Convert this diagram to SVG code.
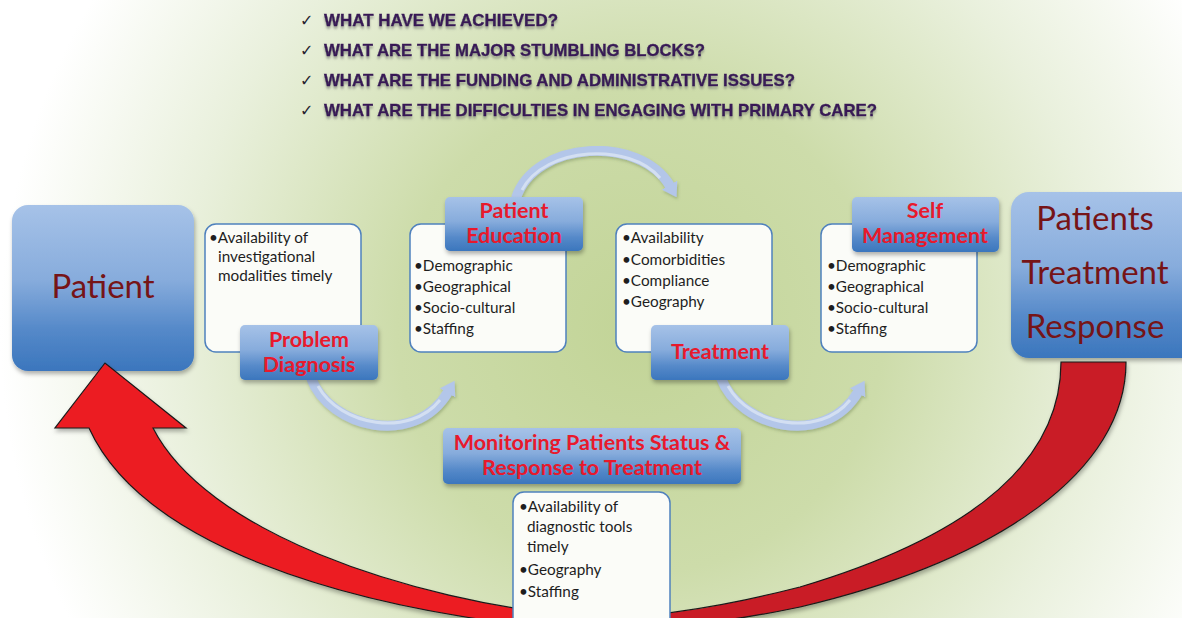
<svg xmlns="http://www.w3.org/2000/svg" width="1182" height="618" viewBox="0 0 1182 618">
  <defs>
    <radialGradient id="bg" gradientUnits="userSpaceOnUse" cx="640" cy="330" r="640">
      <stop offset="0" stop-color="#c2d497"/>
      <stop offset="0.38" stop-color="#cddcaa"/>
      <stop offset="0.72" stop-color="#e9f0dc"/>
      <stop offset="1" stop-color="#ffffff"/>
    </radialGradient>
    <linearGradient id="blueFill" x1="0" y1="0" x2="0" y2="1">
      <stop offset="0" stop-color="#a6c2e8"/>
      <stop offset="0.45" stop-color="#87acdc"/>
      <stop offset="0.75" stop-color="#5589c9"/>
      <stop offset="1" stop-color="#3b76bd"/>
    </linearGradient>
    <filter id="shadow" x="-10%" y="-10%" width="120%" height="130%">
      <feDropShadow dx="1" dy="3" stdDeviation="2" flood-color="#000" flood-opacity="0.3"/>
    </filter>
    <filter id="textShadow" x="-5%" y="-30%" width="110%" height="180%">
      <feDropShadow dx="0" dy="2.5" stdDeviation="1.2" flood-color="#6b6b6b" flood-opacity="0.6"/>
    </filter>
    <filter id="arcShadow" x="-10%" y="-10%" width="130%" height="140%">
      <feDropShadow dx="1" dy="2" stdDeviation="1.5" flood-color="#556b3a" flood-opacity="0.35"/>
    </filter>
    <marker id="blueHead" markerUnits="userSpaceOnUse" viewBox="0 0 14 18" refX="1" refY="9" markerWidth="14" markerHeight="18" orient="auto">
      <path d="M0 0 L14 9 L0 18 Z" fill="#b3c6e9"/>
    </marker>
    <style>
      .hdr { font-family: "Liberation Sans", Arial, sans-serif; font-weight: bold; font-size: 17px; fill: #381a56; stroke: #381a56; stroke-width: 0.35; }
      .tick { font-family: "DejaVu Sans", sans-serif; font-weight: bold; font-size: 16px; fill: #26222e; }
      .label { fill: url(#blueFill); filter: url(#shadow); }
      .labelText { font-family: Lato, "Open Sans", sans-serif; font-weight: bold; font-size: 21.5px; fill: #e8192c; text-anchor: middle; }
      .bigText { font-family: Lato, "Open Sans", sans-serif; font-size: 33px; fill: #761417; text-anchor: middle; }
      .card { fill: #fbfcf8; stroke: #4f81bd; stroke-width: 1.5; }
      .item { font-family: Lato, "Open Sans", sans-serif; font-size: 15.3px; fill: #1e1e1e; }
      .arc { fill: none; stroke: #b3c6e9; stroke-width: 10; marker-end: url(#blueHead); filter: url(#arcShadow); }
      .arcHi { fill: none; stroke: #d3dff2; stroke-width: 3; }
      .bigArrow { stroke: #1a1a1a; stroke-width: 1.2; stroke-linejoin: miter; filter: url(#shadow); }
    </style>
  </defs>

  <!-- backdrop -->
  <rect width="1182" height="618" fill="url(#bg)"/>

  <!-- question list -->
  <g id="questions">
    <text class="tick" x="300" y="26">✓</text>
    <text class="hdr" x="324" y="26" textLength="234" lengthAdjust="spacingAndGlyphs" filter="url(#textShadow)">WHAT HAVE WE ACHIEVED?</text>
    <text class="tick" x="300" y="56">✓</text>
    <text class="hdr" x="324" y="56" textLength="381" lengthAdjust="spacingAndGlyphs" filter="url(#textShadow)">WHAT ARE THE MAJOR STUMBLING BLOCKS?</text>
    <text class="tick" x="300" y="86">✓</text>
    <text class="hdr" x="324" y="86" textLength="471" lengthAdjust="spacingAndGlyphs" filter="url(#textShadow)">WHAT ARE THE FUNDING AND ADMINISTRATIVE ISSUES?</text>
    <text class="tick" x="300" y="116">✓</text>
    <text class="hdr" x="324" y="116" textLength="553" lengthAdjust="spacingAndGlyphs" filter="url(#textShadow)">WHAT ARE THE DIFFICULTIES IN ENGAGING WITH PRIMARY CARE?</text>
  </g>

  <!-- start node -->
  <g id="patient">
    <rect x="12" y="205" width="182" height="166" rx="16" class="label"/>
    <text class="bigText" x="103" y="298">Patient</text>
  </g>

  <!-- connectors -->
  <g id="connectors">
    <!-- large return arrow: right half -->
    <path class="bigArrow" fill="#c91f27" d="M1061 362 L1126 362 C1126 470 1000 560 800 607 C720 624 650 630 590 632 L590 618 C660 618 730 605 800 587 C975 535 1061 460 1061 362 Z"/>
    <!-- large return arrow: left half with head -->
    <path class="bigArrow" fill="#ec1c24" d="M590 618 C400 600 205 530 153 428 L186 428 L105 363 L55 428 L89 428 C140 540 330 610 590 632 Z"/>
    <!-- step arrows -->
    <path class="arc" d="M311 378 C330 428 415 448 448 392"/>
    <path class="arcHi" d="M318 386 C340 426 410 438 440 400"/>
    <path class="arc" d="M516 198 C535 140 640 135 670 186"/>
    <path class="arcHi" d="M522 190 C545 146 630 142 660 178"/>
    <path class="arc" d="M721 378 C740 428 825 448 858 392"/>
    <path class="arcHi" d="M728 386 C750 426 820 438 850 400"/>
  </g>

  <g id="problem-diagnosis">
    <rect x="205" y="224" width="156" height="128" rx="11" class="card"/>
    <text class="item" x="209" y="243">•Availability of</text>
    <text class="item" x="218" y="262">investigational</text>
    <text class="item" x="218" y="281">modalities timely</text>
    <rect x="240" y="325" width="138" height="55" rx="5" class="label"/>
    <text class="labelText" x="309" y="347">Problem</text>
    <text class="labelText" x="309" y="372">Diagnosis</text>
  </g>

  <g id="patient-education">
    <rect x="410" y="224" width="156" height="128" rx="11" class="card"/>
    <text class="item" x="414" y="271">•Demographic</text>
    <text class="item" x="414" y="292">•Geographical</text>
    <text class="item" x="414" y="313">•Socio-cultural</text>
    <text class="item" x="414" y="334">•Staffing</text>
    <rect x="445" y="197" width="138" height="54" rx="5" class="label"/>
    <text class="labelText" x="514" y="218">Patient</text>
    <text class="labelText" x="514" y="243">Education</text>
  </g>

  <g id="treatment">
    <rect x="616" y="224" width="156" height="128" rx="11" class="card"/>
    <text class="item" x="622" y="243">•Availability</text>
    <text class="item" x="622" y="265">•Comorbidities</text>
    <text class="item" x="622" y="286">•Compliance</text>
    <text class="item" x="622" y="307">•Geography</text>
    <rect x="651" y="325" width="138" height="55" rx="5" class="label"/>
    <text class="labelText" x="720" y="359">Treatment</text>
  </g>

  <g id="self-management">
    <rect x="821" y="224" width="156" height="128" rx="11" class="card"/>
    <text class="item" x="827" y="271">•Demographic</text>
    <text class="item" x="827" y="292">•Geographical</text>
    <text class="item" x="827" y="313">•Socio-cultural</text>
    <text class="item" x="827" y="334">•Staffing</text>
    <rect x="852" y="197" width="147" height="55" rx="5" class="label"/>
    <text class="labelText" x="925" y="218">Self</text>
    <text class="labelText" x="925" y="243">Management</text>
  </g>

  <g id="treatment-response">
    <rect x="1011" y="192" width="190" height="166" rx="18" class="label"/>
    <text class="bigText" x="1095" y="230">Patients</text>
    <text class="bigText" x="1095" y="284">Treatment</text>
    <text class="bigText" x="1095" y="338">Response</text>
  </g>

  <g id="monitoring">
    <rect x="443" y="428" width="298" height="56" rx="5" class="label"/>
    <text class="labelText" x="592" y="450">Monitoring Patients Status &amp;</text>
    <text class="labelText" x="592" y="475">Response to Treatment</text>
    <rect x="513" y="492" width="157" height="140" rx="11" class="card"/>
    <text class="item" x="519" y="512">•Availability of</text>
    <text class="item" x="527" y="532">diagnostic tools</text>
    <text class="item" x="527" y="552">timely</text>
    <text class="item" x="519" y="575">•Geography</text>
    <text class="item" x="519" y="597">•Staffing</text>
  </g>
</svg>
